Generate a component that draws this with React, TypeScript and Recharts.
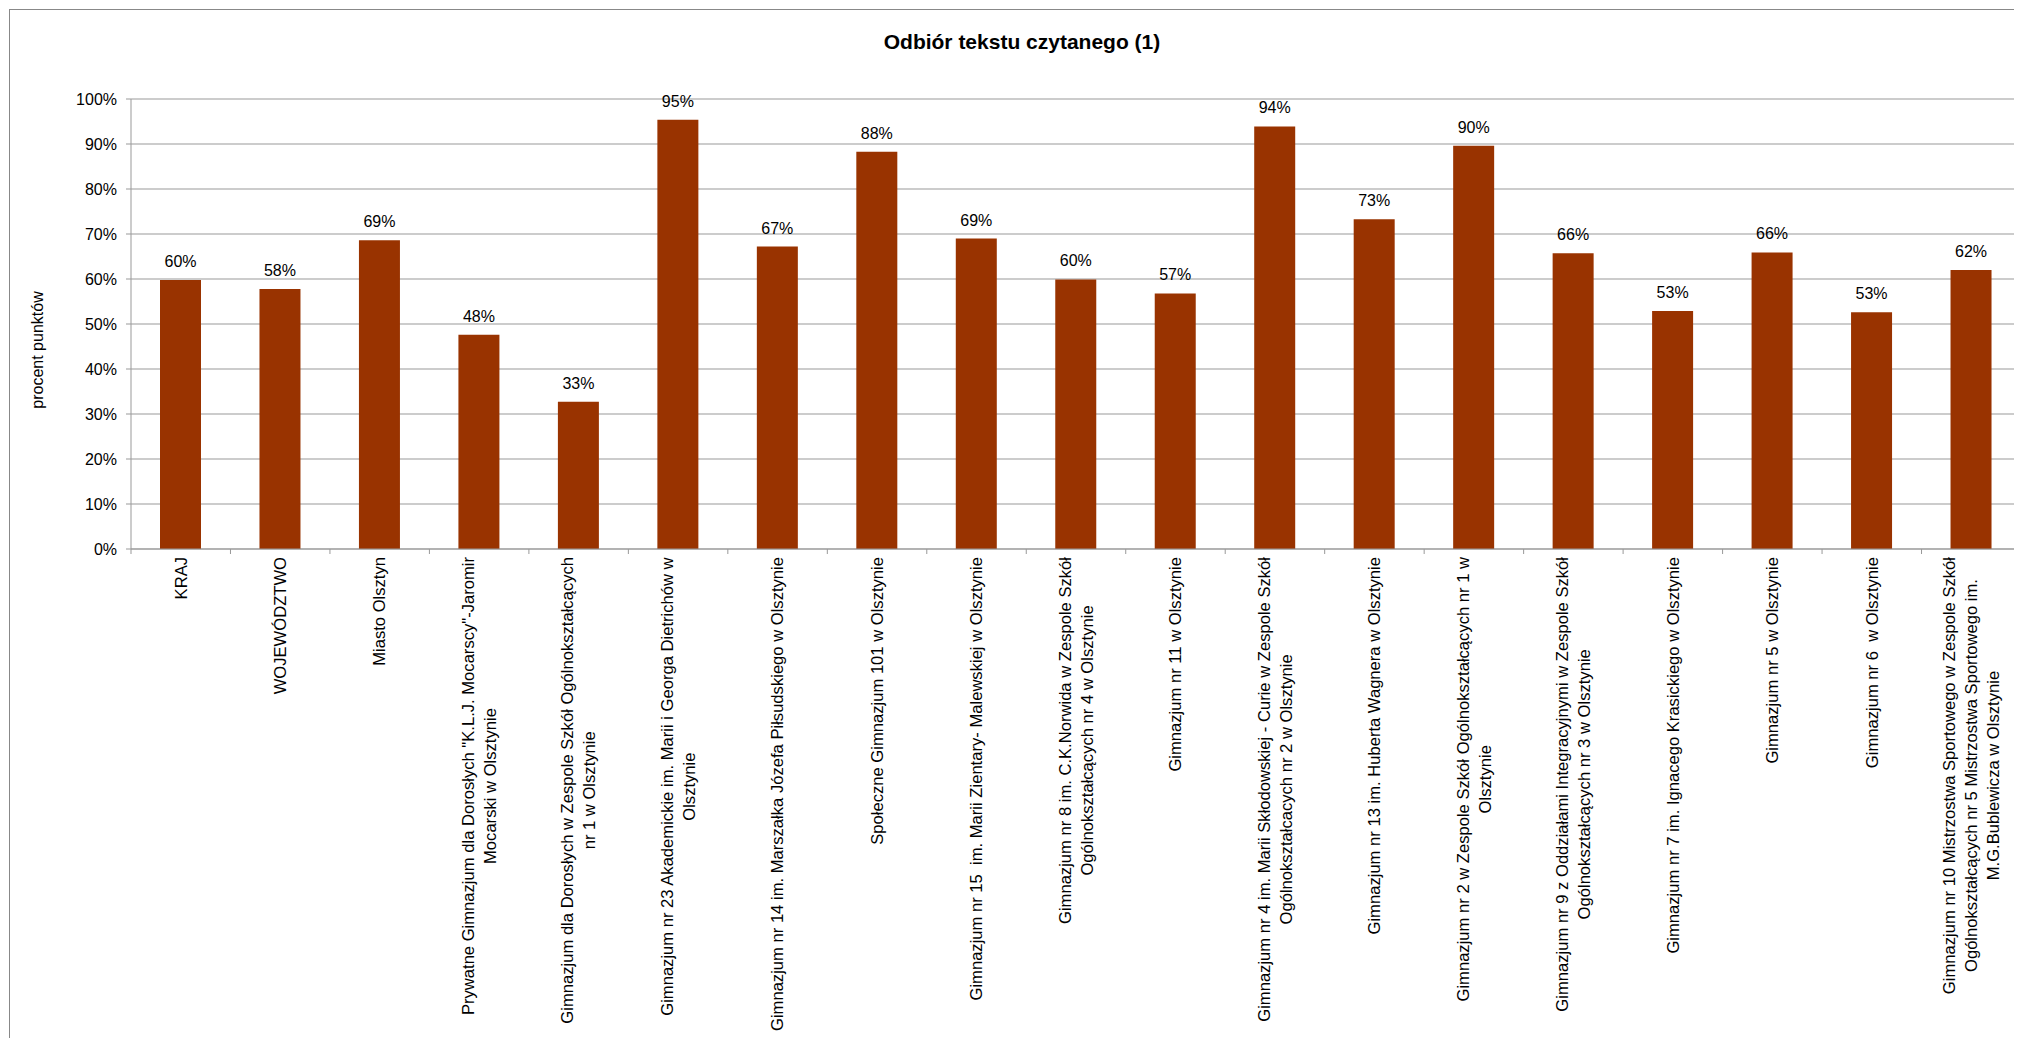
import React from 'react';
import { BarChart, Bar, XAxis, YAxis, CartesianGrid, LabelList, Label } from 'recharts';

// category labels, already split into the lines they wrap to
const categories: string[][] = [
  ['KRAJ'],
  ['WOJEWÓDZTWO'],
  ['Miasto Olsztyn'],
  ['Prywatne Gimnazjum dla Dorosłych "K.L.J. Mocarscy"-Jaromir', 'Mocarski w Olsztynie'],
  ['Gimnazjum dla Dorosłych w Zespole Szkół Ogólnokształcących', 'nr 1 w Olsztynie'],
  ['Gimnazjum nr 23 Akademickie im. Marii i Georga Dietrichów w', 'Olsztynie'],
  ['Gimnazjum nr 14 im. Marszałka Józefa Piłsudskiego w Olsztynie'],
  ['Społeczne Gimnazjum 101 w Olsztynie'],
  ['Gimnazjum nr 15  im. Marii Zientary- Malewskiej w Olsztynie'],
  ['Gimnazjum nr 8 im. C.K.Norwida w Zespole Szkół', 'Ogólnokształcących nr 4 w Olsztynie'],
  ['Gimnazjum nr 11 w Olsztynie'],
  ['Gimnazjum nr 4 im. Marii Skłodowskiej - Curie w Zespole Szkół', 'Ogólnokształcacych nr 2 w Olsztynie'],
  ['Gimnazjum nr 13 im. Huberta Wagnera w Olsztynie'],
  ['Gimnazjum nr 2 w Zespole Szkół Ogólnokształcących nr 1 w', 'Olsztynie'],
  ['Gimnazjum nr 9 z Oddziałami Integracyjnymi w Zespole Szkół', 'Ogólnokształcących nr 3 w Olsztynie'],
  ['Gimnazjum nr 7 im. Ignacego Krasickiego w Olsztynie'],
  ['Gimnazjum nr 5 w Olsztynie'],
  ['Gimnazjum nr 6  w Olsztynie'],
  [
    'Gimnazjum nr 10 Mistrzostwa Sportowego w Zespole Szkół',
    'Ogólnokształcących nr 5 Mistrzostwa Sportowego im.',
    'M.G.Bublewicza w Olsztynie',
  ],
];

// procent punktów
const values = [59.8, 57.8, 68.6, 47.6, 32.7, 95.4, 67.2, 88.3, 69.0, 59.9, 56.8, 93.9, 73.3, 89.6, 65.7, 52.9, 65.9, 52.6, 62.0];

const yTicks = [0, 10, 20, 30, 40, 50, 60, 70, 80, 90, 100];

const data = categories.map((lines, i) => ({ name: lines.join('|'), value: values[i] }));

const FONT = '"Liberation Sans", Arial, sans-serif';
const CHART_W = 2011;
const CHART_H = 1030;
const Y_AXIS_W = 121;
const BAND = (CHART_W - Y_AXIS_W) / categories.length;
const LINE_H = 22;
const CAT_FONT = 16.6;

let ctx: CanvasRenderingContext2D | null = null;
function measure(text: string) {
  if (!ctx) {
    ctx = document.createElement('canvas').getContext('2d');
  }
  if (!ctx) return text.length * 8;
  ctx.font = `${CAT_FONT}px ${FONT}`;
  return ctx.measureText(text).width;
}

const CategoryTick = (props: any) => {
  const { x, y, payload } = props;
  const index = props.index ?? payload.index ?? 0;
  const lines: string[] = String(payload.value).split('|');
  const maxW = Math.max(...lines.map(measure));
  const n = lines.length;
  return (
    <g>
      <line x1={x - BAND / 2} x2={x - BAND / 2} y1={y} y2={y + 5} stroke="#999" />
      {index === categories.length - 1 && (
        <line x1={x + BAND / 2} x2={x + BAND / 2} y1={y} y2={y + 5} stroke="#999" />
      )}
      <g transform={`translate(${x},${y + 8}) rotate(-90)`}>
        {lines.map((line, i) => (
          <text
            key={i}
            x={-maxW / 2}
            y={(i - (n - 1) / 2) * LINE_H}
            dy="0.35em"
            textAnchor="middle"
            fontSize={CAT_FONT}
            fontFamily={FONT}
            fill="#000"
            style={{ whiteSpace: 'pre' }}
          >
            {line}
          </text>
        ))}
      </g>
    </g>
  );
};

export default function App() {
  return (
    <div
      style={{
        position: 'relative',
        margin: '1px 0 0 1px',
        width: CHART_W,
        height: CHART_H,
        border: '1px solid #888',
        fontFamily: FONT,
      }}
    >
      <style>{'body{overflow:hidden}'}</style>
      <div
        style={{
          position: 'absolute',
          left: 512,
          top: 20,
          width: 1000,
          lineHeight: '24px',
          textAlign: 'center',
          fontSize: 21,
          fontWeight: 'bold',
          color: '#000',
        }}
      >
        Odbiór tekstu czytanego (1)
      </div>
      <BarChart
        width={CHART_W}
        height={CHART_H}
        data={data}
        margin={{ top: 89, right: 0, left: 0, bottom: 0 }}
        barSize={41}
      >
        <CartesianGrid vertical={false} stroke="#999" />
        <XAxis
          dataKey="name"
          interval={0}
          height={CHART_H - 89 - 450}
          tickLine={false}
          tickSize={0}
          tickMargin={0}
          axisLine={{ stroke: '#999' }}
          tick={<CategoryTick />}
        />
        <YAxis
          width={Y_AXIS_W}
          domain={[0, 100]}
          ticks={yTicks}
          tickFormatter={(v) => `${v}%`}
          tick={{ fill: '#000', fontSize: 16, fontFamily: FONT }}
          tickSize={5}
          tickMargin={9}
          axisLine={{ stroke: '#999' }}
          tickLine={{ stroke: '#999' }}
        >
          <Label
            content={() => (
              <text
                x={27}
                y={340}
                transform="rotate(-90, 27, 340)"
                textAnchor="middle"
                dy="0.35em"
                fontSize={16}
                fontFamily={FONT}
                fill="#000"
              >
                procent punktów
              </text>
            )}
          />
        </YAxis>
        <Bar dataKey="value" fill="#993300" isAnimationActive={false}>
          <LabelList
            dataKey="value"
            position="top"
            offset={13}
            formatter={(v: any) => `${Math.round(Number(v))}%`}
            style={{ fill: '#000', fontSize: 16, fontFamily: FONT }}
          />
        </Bar>
      </BarChart>
    </div>
  );
}
